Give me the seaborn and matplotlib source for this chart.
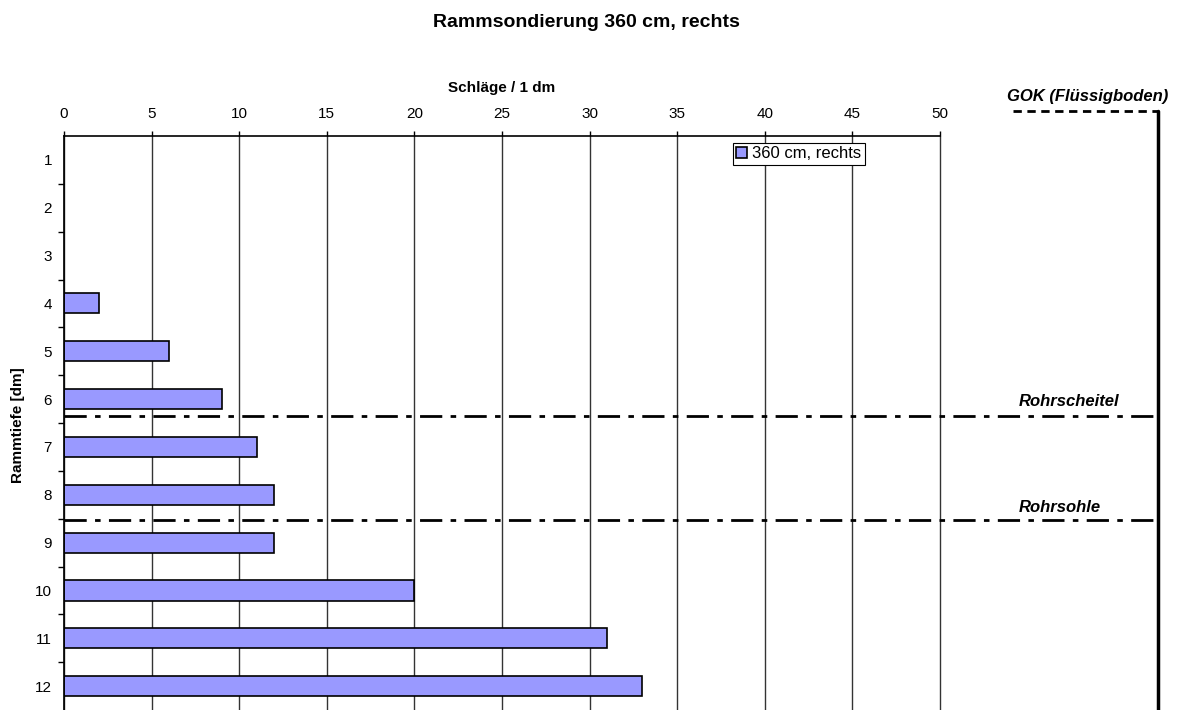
import numpy as np
import pandas as pd
import seaborn as sns
import matplotlib.pyplot as plt
from matplotlib.ticker import FixedLocator

# data
depths = ['1', '2', '3', '4', '5', '6', '7', '8', '9', '10', '11', '12']
blows = [np.nan, np.nan, np.nan, 2, 6, 9, 11, 12, 12, 20, 31, 33]
series_name = '360 cm, rechts'
x_ticks = [0, 5, 10, 15, 20, 25, 30, 35, 40, 45, 50]

# reference levels (category position, 0-based)
rohrscheitel = 5.35
rohrsohle = 7.53


def main():

	"""
	draw the driven probe chart
	"""

	sns.set_style('white')
	plt.rcParams['font.family'] = ['Liberation Sans', 'DejaVu Sans']
	plt.rcParams['text.color'] = 'black'
	plt.rcParams['xtick.color'] = 'black'
	plt.rcParams['ytick.color'] = 'black'
	plt.rcParams['axes.labelcolor'] = 'black'

	df = pd.DataFrame({'Rammtiefe': depths, 'Schlaege': blows})

	fig = plt.figure(figsize=(11.8, 7.1), dpi=100)
	ax = fig.add_axes([0.0542, -0.0042, 0.7424, 0.8127])

	sns.barplot(data=df, y='Rammtiefe', x='Schlaege', order=depths, orient='h',
				color='#9999FF', saturation=1, edgecolor='black', linewidth=1.2,
				width=0.42, label=series_name, ax=ax)

	# axes layout
	ax.set_xlim(0, 50)
	ax.set_ylim(11.56, -0.5)
	ax.xaxis.tick_top()
	ax.xaxis.set_label_position('top')
	ax.set_xticks(x_ticks)
	ax.tick_params(axis='x', which='major', direction='out', length=3.6, width=1,
				   labelsize=11, pad=7.4)
	ax.tick_params(axis='y', which='major', length=0, labelsize=11, pad=8.6)
	ax.yaxis.set_minor_locator(FixedLocator(np.arange(0.5, 11.5, 1.0)))
	ax.tick_params(axis='y', which='minor', direction='out', length=4, width=1,
				   left=True)

	for s in ['right', 'bottom']:
		ax.spines[s].set_visible(False)
	for s in ['left', 'top']:
		ax.spines[s].set_color('black')
		ax.spines[s].set_linewidth(1.2)

	ax.grid(axis='x', color='#333333', linewidth=1)
	for gl in ax.get_xgridlines():
		gl.set_clip_on(False)
	ax.set_axisbelow(True)

	ax.set_xlabel('Schläge / 1 dm', fontsize=11, fontweight='bold')
	ax.xaxis.set_label_coords(0.5, 1.0832)
	ax.xaxis.label.set_va('center')
	ax.set_ylabel('Rammtiefe [dm]', fontsize=11, fontweight='bold')
	ax.yaxis.set_label_coords(-0.0519, 0.499)
	ax.yaxis.label.set_va('center')

	# reference lines reaching past the plot area
	tr = ax.get_yaxis_transform()
	for lvl in [rohrscheitel, rohrsohle]:
		ax.plot([0, 1.249], [lvl, lvl], transform=tr, color='black', linewidth=2,
				linestyle=(0, (8, 3, 2, 3)), clip_on=False)
	ax.text(1.0902, rohrscheitel - 0.29, 'Rohrscheitel', transform=tr, fontsize=12,
			fontweight='bold', fontstyle='italic', va='center', ha='left')
	ax.text(1.0902, rohrsohle - 0.27, 'Rohrsohle', transform=tr, fontsize=12,
			fontweight='bold', fontstyle='italic', va='center', ha='left')

	# GOK marker and right border line
	ax.plot([1.0833, 1.2489], [1.0433, 1.0433], transform=ax.transAxes, color='black',
			linewidth=2, linestyle=(0, (3, 2)), clip_on=False)
	ax.plot([1.2489, 1.2489], [1.0433, -0.02], transform=ax.transAxes, color='black',
			linewidth=2.5, clip_on=False)
	ax.text(1.169, 1.0676, 'GOK (Flüssigboden)', transform=ax.transAxes, fontsize=12,
			fontweight='bold', fontstyle='italic', va='center', ha='center')

	# legend
	leg = ax.legend(loc='upper left', bbox_to_anchor=(0.7637, 0.9879), fontsize=12,
					frameon=True, fancybox=False, edgecolor='black', framealpha=1,
					handlelength=0.65, handleheight=0.65, handletextpad=0.3,
					borderpad=0.2, borderaxespad=0)
	leg.get_frame().set_linewidth(0.8)

	fig.text(0.497, 0.968, 'Rammsondierung 360 cm, rechts', fontsize=14,
			 fontweight='bold', ha='center', va='center')

	fig.savefig('out.png', dpi=100)
	return


# execute main
if __name__ == '__main__':
	main()
